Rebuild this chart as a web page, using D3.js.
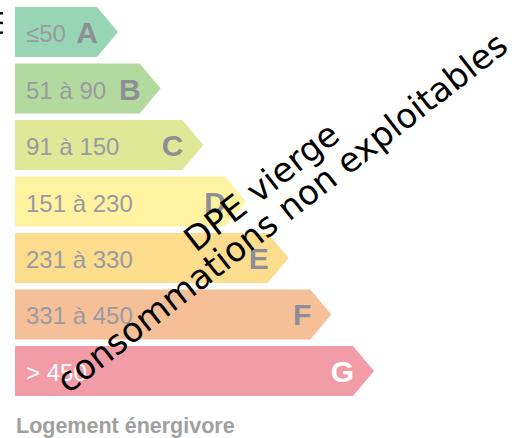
<!DOCTYPE html>
<html>
<head>
<meta charset="utf-8">
<script src="https://cdn.jsdelivr.net/npm/d3@7"></script>
<style>
  html, body { margin: 0; padding: 0; background: #ffffff; }
  svg { display: block; }
</style>
</head>
<body>
<svg id="chart" width="517" height="438"></svg>
<script>
// ---- data ----
const classes = ["A", "B", "C", "D", "E", "F", "G"];
const ranges = ["≤50", "51 à 90", "91 à 150", "151 à 230", "231 à 330", "331 à 450", "> 450"];
const colors = ["#97d5b4", "#b3da9e", "#dee897", "#fff2a1", "#fbdd8d", "#f5bf97", "#f19ca6"];
const textColors = ["#9a9aa3", "#9a9aa3", "#9a9aa3", "#9a9aa3", "#9a9aa3", "#9a9aa3", "#ffffff"];
const letterColors = ["#8e8e97", "#8e8e97", "#8e8e97", "#8e8e97", "#8e8e97", "#8e8e97", "#ffffff"];
const footer = "Logement énergivore";
const watermark = ["DPE vierge", "consommations non exploitables"];

// ---- layout ----
const svg = d3.select("#chart");
const x0 = 15;
const tipW = 21;

const y = d3.scaleBand().domain(classes).range([7, 396]).paddingInner(0.115).paddingOuter(0);
const xEnd = d3.scaleLinear().domain([0, classes.length - 1]).range([97, 353]);

const rows = classes.map((c, i) => ({ c, i, range: ranges[i] }));

const g = svg.append("g");

const row = g.selectAll("g.row").data(rows).join("g").attr("class", "row");

row.append("path")
  .attr("d", d => {
    const t = y(d.c), h = y.bandwidth(), e = xEnd(d.i);
    return `M${x0},${t}L${e},${t}L${e + tipW},${t + h / 2}L${e},${t + h}L${x0},${t + h}Z`;
  })
  .attr("fill", d => colors[d.i]);

row.append("text")
  .attr("x", x0 + 11)
  .attr("y", d => y(d.c) + y.bandwidth() / 2 + 10)
  .attr("font-family", "'Liberation Sans', Arial, sans-serif")
  .attr("font-size", 24)
  .attr("fill", d => textColors[d.i])
  .text(d => d.range);

row.append("text")
  .attr("x", d => xEnd(d.i) + 1)
  .attr("y", d => y(d.c) + y.bandwidth() / 2 + 11)
  .attr("text-anchor", "end")
  .attr("font-family", "'Liberation Sans', Arial, sans-serif")
  .attr("font-weight", "bold")
  .attr("font-size", 30)
  .attr("fill", d => letterColors[d.i])
  .text(d => d.c);

// small marks at the top-left edge
g.selectAll("rect.dot").data([0, 1, 2]).join("rect")
  .attr("class", "dot")
  .attr("x", 0).attr("y", d => 12 + d * 9.7)
  .attr("width", 3).attr("height", 2.5)
  .attr("fill", "#111");

// footer
svg.append("text")
  .attr("x", 16)
  .attr("y", 433)
  .attr("font-family", "'Liberation Sans', Arial, sans-serif")
  .attr("font-weight", "bold")
  .attr("font-size", 21.5)
  .attr("fill", "#a0a0a0")
  .text(footer);

// watermark
const wm = svg.append("g").attr("transform", "translate(289,222) rotate(-38)");
wm.selectAll("text").data(watermark).join("text")
  .attr("x", 0)
  .attr("y", (d, i) => (i - 1) * 33)
  .attr("text-anchor", "middle")
  .attr("font-family", "'DejaVu Sans', Verdana, sans-serif")
  .attr("font-size", 34)
  .attr("fill", "#000")
  .text(d => d);
</script>
</body>
</html>
